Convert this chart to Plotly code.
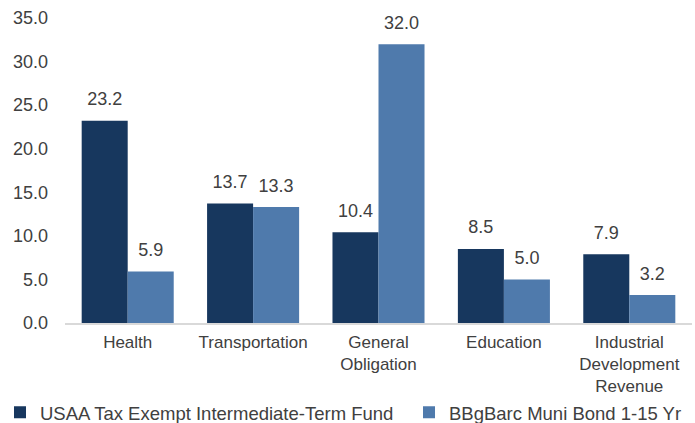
import plotly.graph_objects as go

categories = ["Health", "Transportation", "General<br>Obligation", "Education", "Industrial<br>Development<br>Revenue"]
fund_values = [23.2, 13.7, 10.4, 8.5, 7.9]
bench_values = [5.9, 13.3, 32.0, 5.0, 3.2]
fund_name = "USAA Tax Exempt Intermediate-Term Fund"
bench_name = "BBgBarc Muni Bond 1-15 Yr"
tick_vals = [0, 5, 10, 15, 20, 25, 30, 35]
tick_text = ["0.0", "5.0", "10.0", "15.0", "20.0", "25.0", "30.0", "35.0"]

font = "Liberation Sans, Arial, sans-serif"
txtcol = "#404040"
fig = go.Figure()
series = [(fund_name, fund_values, "#17375e", "g1", "legend"),
          (bench_name, bench_values, "#4f7aac", "g2", "legend2")]
for name, vals, col, grp, leg in series:
    fig.add_bar(x=categories, y=vals, name=name, marker_color=col, offsetgroup=grp,
                marker_line_width=0, legend=leg)
for name, vals, col, grp, leg in series:
    fig.add_scatter(x=categories, y=vals, mode="markers+text", offsetgroup=grp,
                    text=[f"{v:.1f}" for v in vals], textposition="top center",
                    marker=dict(size=16, opacity=0), showlegend=False, hoverinfo="skip",
                    textfont=dict(size=18, color=txtcol, family=font), cliponaxis=False)

leg_common = dict(orientation="h", xref="container", yref="container",
                  xanchor="left", y=0.024, yanchor="middle", bgcolor="rgba(0,0,0,0)",
                  font=dict(size=18.5, color=txtcol), itemwidth=30, itemclick=False)
fig.update_layout(
    width=695, height=423,
    margin=dict(l=65, r=3, t=18, b=100, autoexpand=False),
    barmode="group", bargap=0.266, bargroupgap=0,
    scattermode="group", scattergap=0.266,
    plot_bgcolor="white", paper_bgcolor="white",
    font=dict(family=font, size=17, color=txtcol),
    showlegend=True,
    legend=dict(x=0.0, **leg_common),
    legend2=dict(x=0.5885, **leg_common),
    xaxis=dict(showline=True, linecolor="#d9d9d9", linewidth=1.5, ticks="",
               tickfont=dict(size=17, color=txtcol), ticklabelstandoff=3),
    yaxis=dict(range=[0, 35], tickvals=tick_vals, ticktext=tick_text, showgrid=False,
               zeroline=False, showline=False, tickfont=dict(size=18, color=txtcol),
               ticklabelstandoff=16),
)
fig.write_html("out.html", config={"displayModeBar": False},
               post_script="document.body.style.margin='0';")
